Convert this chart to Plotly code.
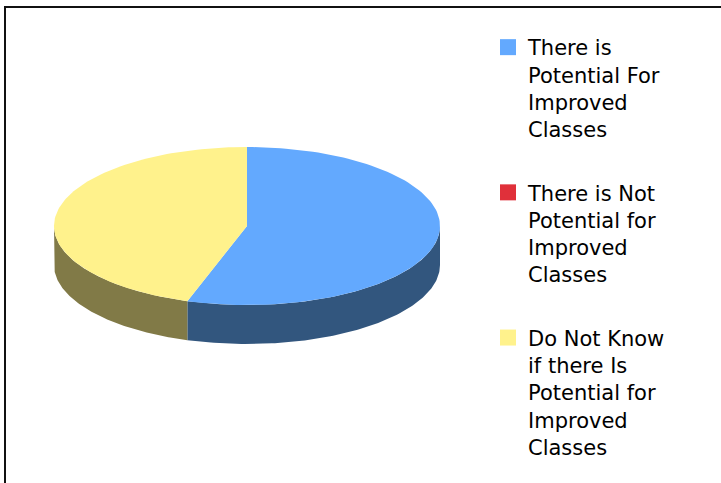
import numpy as np
import plotly.graph_objects as go

# Survey answers (share of respondents, %)
categories = [
    "There is<br>Potential For<br>Improved<br>Classes",
    "There is Not<br>Potential for<br>Improved<br>Classes",
    "Do Not Know<br>if there Is<br>Potential for<br>Improved<br>Classes",
]
values = [55, 0, 45]
top_colors = ["#63A9FE", "#E0303A", "#FFF28C"]
side_colors = ["#32567E", "#7A1A20", "#817A47"]

W, H = 721, 483
# Pie geometry (in pixel-like axis units)
CX, CY, RX, RY, DEPTH = 247, 226, 193, 79, 39


def arc(a1, a2, dy=0.0, n=120):
    """Points on the tilted ellipse, angles in degrees clockwise from 12 o'clock."""
    t = np.radians(np.linspace(a1, a2, n))
    return CX + RX * np.sin(t), CY - RY * np.cos(t) + dy


fig = go.Figure()

total = float(sum(values))
bounds = []
start = 0.0
for v in values:
    end = start + 360.0 * v / total
    bounds.append((start, end))
    start = end

# Side walls (only the front half of the rim is visible)
for (a1, a2), v, col in zip(bounds, values, side_colors):
    s1, s2 = max(a1, 90.0), min(a2, 270.0)
    if v <= 0 or s2 <= s1:
        continue
    xt, yt = arc(s1, s2)
    xb, yb = arc(s1, s2, DEPTH)
    xs = np.concatenate([xt, xb[::-1], xt[:1]])
    ys = np.concatenate([yt, yb[::-1], yt[:1]])
    fig.add_trace(go.Scatter(x=xs, y=ys, mode="lines", fill="toself",
                             fillcolor=col, line=dict(width=0, color=col),
                             hoverinfo="skip", showlegend=False))

# Top faces of the slices
for (a1, a2), v, col in zip(bounds, values, top_colors):
    if v <= 0:
        continue
    xa, ya = arc(a1, a2)
    xs = np.concatenate([[CX], xa, [CX]])
    ys = np.concatenate([[CY], ya, [CY]])
    fig.add_trace(go.Scatter(x=xs, y=ys, mode="lines", fill="toself",
                             fillcolor=col, line=dict(width=0, color=col),
                             hoverinfo="skip", showlegend=False))

# Legend entries
for i, (name, col) in enumerate(zip(categories, top_colors)):
    fig.add_trace(go.Scatter(x=[None], y=[None], mode="markers", name=name,
                             legendgroup=f"g{i}",
                             marker=dict(symbol="square", size=20, color=col,
                                         line=dict(width=0))))

# Chart frame (top and left edges)
fig.add_shape(type="line", xref="paper", yref="paper", x0=4 / W, x1=1, y0=1 - 7 / H, y1=1 - 7 / H,
              line=dict(color="#111111", width=2))
fig.add_shape(type="line", xref="paper", yref="paper", x0=5 / W, x1=5 / W, y0=0, y1=1 - 6 / H,
              line=dict(color="#111111", width=2))

fig.update_layout(
    width=W, height=H,
    margin=dict(l=0, r=0, t=0, b=0),
    paper_bgcolor="white", plot_bgcolor="white",
    xaxis=dict(range=[0, W], visible=False, fixedrange=True),
    yaxis=dict(range=[H, 0], visible=False, fixedrange=True),
    showlegend=True,
    legend=dict(x=488 / W, y=1 - 27 / H, xanchor="left", yanchor="top",
                font=dict(family="DejaVu Sans", size=21, color="#000000"),
                valign="top", tracegroupgap=33, bgcolor="rgba(0,0,0,0)",
                itemsizing="trace"),
)

fig.write_html("out.html")
